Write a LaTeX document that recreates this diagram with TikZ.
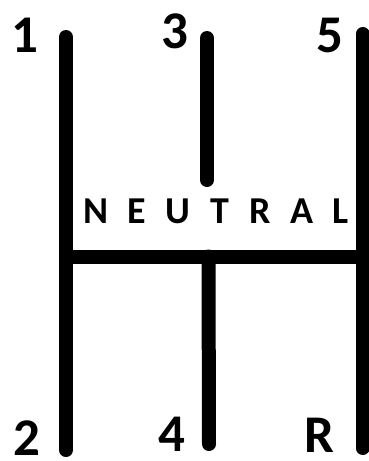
\documentclass[tikz,border=0pt]{standalone}
\usepackage{fontspec}
\setmainfont{Carlito}
\begin{document}
\begin{tikzpicture}[x=1pt,y=-1pt,
  bar/.style={line width=14pt,line cap=round,black},
  gear/.style={anchor=base,inner sep=0pt,font=\fontsize{53}{53}\selectfont\bfseries},
  neutraltext/.style={anchor=base,inner sep=0pt,font=\fontsize{38}{38}\selectfont\bfseries}]
\useasboundingbox (0,0) rectangle (369,461);
% bar end points
\coordinate (ltop) at (66,37);
\coordinate (lbot) at (66,450);
\coordinate (mtop) at (207,38);
\coordinate (mmid) at (207,180);
\coordinate (rtop) at (362.5,34);
\coordinate (rbot) at (362.5,448);
\coordinate (hl) at (66,256.5);
\coordinate (hr) at (362.5,256.5);
\coordinate (mbot) at (209,444);
\coordinate (hm) at (208.5,256.5);
\draw[bar] (ltop) -- (lbot);
\draw[bar] (rtop) -- (rbot);
\draw[bar] (mtop) -- (mmid);
\draw[bar,line cap=butt] (hl) -- (hr);
\draw[bar] (hm) -- (mbot);
% labels
\node[gear] (g1) at (24.5,52) {1};
\node[gear] (g3) at (174.5,48) {3};
\node[gear] (g5) at (330,52) {5};
\node[gear] (g2) at (27,455) {2};
\node[gear] (g4) at (172,451) {4};
\node[gear] (gR) at (319,452) {R};
\node[neutraltext] (neutral) at (216,223) {\makebox[266pt][s]{N E U T R A L}};
\end{tikzpicture}
\end{document}
